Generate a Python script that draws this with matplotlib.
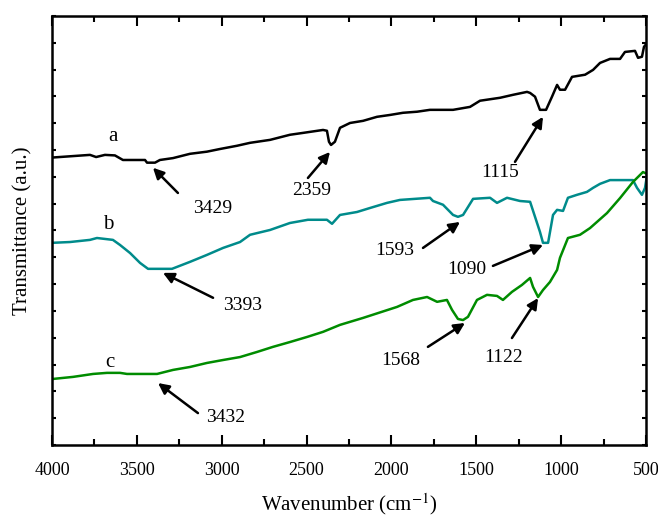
import numpy as np
import matplotlib.pyplot as plt
from matplotlib.ticker import MultipleLocator

plt.rcParams['font.family'] = ['Liberation Serif', 'DejaVu Serif']
plt.rcParams['mathtext.fontset'] = 'stix'

# FT-IR spectra (wavenumber in cm^-1, transmittance in arbitrary offset units)
wn_a = [4000, 3776, 3740, 3688, 3629, 3582, 3452, 3440, 3393, 3364, 3287, 3187, 3087, 3010,
        2910, 2833, 2715, 2598, 2521, 2403, 2380, 2368, 2356, 2333, 2303, 2244, 2167, 2085,
        2008, 1932, 1849, 1773, 1637, 1537, 1478, 1360, 1284, 1201, 1183, 1154, 1125, 1089,
        1054, 1024, 1007, 977, 936, 859, 812, 771, 712, 653, 624, 565, 547, 524, 512, 488]
t_a = [10.72, 10.82, 10.74, 10.82, 10.80, 10.63, 10.63, 10.53, 10.53, 10.63, 10.70, 10.86, 10.94, 11.04,
       11.16, 11.27, 11.38, 11.57, 11.64, 11.75, 11.72, 11.31, 11.19, 11.31, 11.83, 12.01, 12.09, 12.24,
       12.31, 12.39, 12.43, 12.50, 12.50, 12.61, 12.84, 12.95, 13.06, 13.17, 13.13, 12.99, 12.50, 12.50,
       12.99, 13.43, 13.25, 13.25, 13.73, 13.81, 13.99, 14.25, 14.40, 14.40, 14.66, 14.70, 14.44, 14.48, 14.85, 15.04]

wn_b = [4000, 3894, 3776, 3735, 3641, 3599, 3540, 3481, 3434, 3293, 3187, 3087, 2992, 2892,
        2833, 2715, 2598, 2492, 2380, 2350, 2303, 2203, 2126, 2026, 1950, 1773, 1755, 1696,
        1637, 1608, 1578, 1519, 1419, 1378, 1319, 1242, 1183, 1154, 1125, 1107, 1077, 1048,
        1024, 989, 960, 907, 848, 812, 771, 712, 577, 553, 524, 506, 494, 488]
t_b = [7.54, 7.57, 7.65, 7.72, 7.65, 7.46, 7.16, 6.79, 6.57, 6.57, 6.83, 7.09, 7.35, 7.57,
       7.84, 8.02, 8.28, 8.40, 8.40, 8.25, 8.58, 8.69, 8.84, 9.03, 9.14, 9.22, 9.10, 8.96,
       8.58, 8.51, 8.58, 9.18, 9.22, 9.03, 9.22, 9.10, 9.07, 8.51, 7.95, 7.54, 7.54, 8.58,
       8.77, 8.73, 9.22, 9.33, 9.44, 9.59, 9.74, 9.88, 9.88, 9.59, 9.33, 9.59, 10.07, 9.96]

wn_c = [4000, 3876, 3758, 3676, 3599, 3558, 3381, 3287, 3187, 3087, 2992, 2892, 2792, 2698,
        2598, 2497, 2403, 2303, 2167, 1967, 1873, 1790, 1731, 1673, 1643, 1608, 1578, 1549,
        1496, 1437, 1378, 1343, 1290, 1231, 1183, 1166, 1136, 1107, 1066, 1024, 1007, 960,
        889, 830, 730, 653, 577, 518, 494]
t_c = [2.46, 2.54, 2.65, 2.69, 2.69, 2.65, 2.65, 2.80, 2.91, 3.06, 3.17, 3.28, 3.47, 3.66,
       3.84, 4.03, 4.22, 4.48, 4.74, 5.15, 5.41, 5.52, 5.34, 5.41, 5.04, 4.70, 4.66, 4.78,
       5.41, 5.60, 5.56, 5.41, 5.71, 5.97, 6.23, 5.90, 5.52, 5.78, 6.08, 6.53, 6.98, 7.72,
       7.84, 8.09, 8.65, 9.21, 9.81, 10.18, 10.11]

curve_names = ['a', 'b', 'c']
peak_labels = ['3429', '2359', '1115', '3393', '1593', '1090', '3432', '1568', '1122']

fig = plt.figure(figsize=(6.58, 5.16), dpi=100)
ax = fig.add_axes([0.079, 0.1376, 0.9028, 0.8314])

ax.plot(wn_a, t_a, color='black', lw=1.8)
ax.plot(wn_b, t_b, color='#008B8B', lw=1.8)
ax.plot(wn_c, t_c, color='#008C00', lw=1.8)

# curve letters
for name, (x, y) in zip(curve_names, [(3641, 11.49), (3670, 8.21), (3658, 3.06)]):
    ax.text(x, y, name, fontsize=15, ha='center', va='center')

# peak annotations: (tip, tail, text position)
layout = [((3405, 10.34), (3258, 9.40), (3051, 8.81)),
          ((2362, 10.93), (2492, 9.96), (2468, 9.51)),
          ((1107, 12.24), (1272, 10.56), (1360, 10.15)),
          ((3346, 6.42), (3051, 5.49), (2880, 5.19)),
          ((1596, 8.32), (1814, 7.35), (1979, 7.24)),
          ((1107, 7.46), (1402, 6.68), (1555, 6.53)),
          ((3375, 2.31), (3140, 1.19), (2975, 1.04)),
          ((1567, 4.55), (1785, 3.66), (1944, 3.17)),
          ((1136, 5.48), (1290, 3.99), (1337, 3.28))]
for lab, (tip, tail, pos) in zip(peak_labels, layout):
    ax.annotate('', xy=tip, xytext=tail,
                arrowprops=dict(arrowstyle='-|>', color='black', lw=1.8,
                                mutation_scale=16, shrinkA=0, shrinkB=0))
    ax.text(pos[0], pos[1], lab, fontsize=14, ha='center', va='center')

ax.set_xlim(4000, 500)
ax.set_ylim(0, 16)
ax.xaxis.set_major_locator(MultipleLocator(500))
ax.xaxis.set_minor_locator(MultipleLocator(250))
ax.yaxis.set_major_locator(MultipleLocator(1))
ax.tick_params(axis='x', which='major', direction='in', length=7, width=1.5,
               top=True, labelsize=13, pad=12)
ax.tick_params(axis='x', which='minor', direction='in', length=4, width=1.5, top=True)
ax.tick_params(axis='y', which='major', direction='in', length=3, width=1.5,
               right=True, labelleft=False)
for s in ax.spines.values():
    s.set_linewidth(1.8)

ax.set_xlabel('Wavenumber (cm$^{-1}$)', fontsize=15, labelpad=9)
ax.set_ylabel('Transmittance (a.u.)', fontsize=15, labelpad=14)

fig.savefig('out.png', dpi=100)
